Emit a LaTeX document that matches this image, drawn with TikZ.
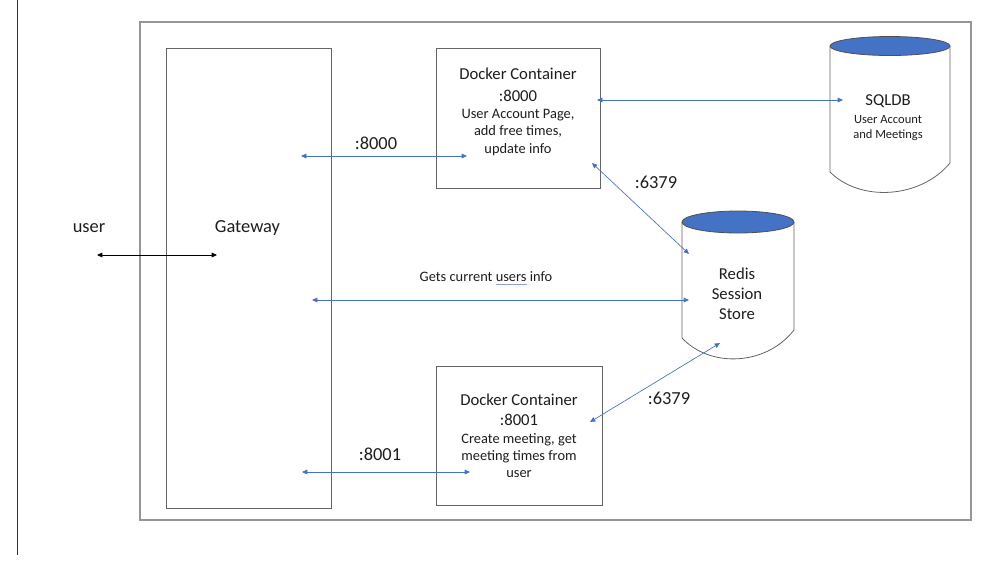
\documentclass[tikz,border=0pt]{standalone}
\usepackage{fontspec}
\setmainfont{Carlito}
\usetikzlibrary{positioning}
\usetikzlibrary{arrows.meta}

\definecolor{linkblue}{RGB}{68,114,196}
\definecolor{spellblue}{RGB}{140,160,225}
\definecolor{edgegray}{RGB}{100,100,100}
\definecolor{framegray}{RGB}{150,150,150}
\definecolor{inkgray}{RGB}{30,30,30}

\newcommand{\bigsize}{\fontsize{12.5}{15}\selectfont}
\newcommand{\spellmark}[1]{\setbox0\hbox{#1}\rlap{\color{spellblue}\rule[-2.4pt]{\wd0}{0.7pt}}#1}

\tikzset{
  box/.style={draw=edgegray, line width=0.6pt, fill=white, inner sep=0pt, text=inkgray},
  link/.style={draw=linkblue, line width=0.5pt,
    {Triangle[length=4pt,width=3.5pt]}-{Triangle[length=4pt,width=3.5pt]}},
  labeltxt/.style={font=\fontsize{13.8}{16}\selectfont, text=inkgray},
  bigtxt/.style={font=\bigsize, text=inkgray},
  smalltxt/.style={font=\fontsize{10.8}{13}\selectfont, text=inkgray},
}

\begin{document}
\begin{tikzpicture}[x=0.75pt, y=-0.75pt]
  \useasboundingbox (0,0) rectangle (1002,576);

  % page edge and outer frame
  \draw[black!80, line width=0.6pt] (17,0) -- (17,555);
  \draw[framegray, line width=0.8pt] (140,22) rectangle (971,520);

  % gateway and user
  \node[box, minimum width=123.75pt, minimum height=345pt] (gateway) at (248.5,278) {};
  \node[labeltxt] (gatewaylabel) at (247.5,228.5) {Gateway};
  \node[labeltxt] (user) at (89,228.5) {user};

  % containers
  \node[box, minimum width=123pt, minimum height=105pt] (dockerA) at (518,118) {};
  \node[smalltxt, align=center] (dockerAtext) at (518,112)
    {{\bigsize Docker Container}\\[3pt]{\bigsize :8000}\\User Account Page,\\add free times,\\update info};
  \node[box, smalltxt, align=center, minimum width=124.5pt, minimum height=104pt] (dockerB) at (519,436)
    {{\bigsize Docker Container}\\[2pt]{\bigsize :8001}\\Create meeting, get\\meeting times from\\user};

  % databases
  \foreach \cx/\cy/\rx/\ry/\hl/\hr in {890/46/60/9.5/126/117, 738/222/56/11/116/108} {
    \draw[edgegray, line width=0.6pt, fill=white]
      (\cx-\rx,\cy) -- (\cx-\rx,\cy+\hl)
      .. controls (\cx-0.5*\rx,\cy+\hl+30) and (\cx+0.5*\rx,\cy+\hr+36) .. (\cx+\rx,\cy+\hr)
      -- (\cx+\rx,\cy);
    \draw[edgegray!80!black, line width=0.6pt, fill=linkblue] (\cx,\cy) ellipse ({\rx*0.75pt} and {\ry*0.75pt});
  }
  \node[bigtxt] (sqldb) at (888,101.5) {SQLDB};
  \node[font=\fontsize{9.4}{11.25}\selectfont, text=inkgray, align=center] (sqlnote) at (888,128.5)
    {User Account\\and Meetings};
  \node[bigtxt, align=center] (redis) at (737,293.5) {Redis\\Session\\Store};

  % connector ends
  \coordinate (userend) at (97,255);
  \coordinate (gwuser) at (217,255);
  \coordinate (gwA) at (301,156);
  \coordinate (dkA) at (467,156);
  \coordinate (gwB) at (302,472);
  \coordinate (dkB) at (470,472);
  \coordinate (gwR) at (312,300);
  \coordinate (rdL) at (689,300);
  \coordinate (dkAsql) at (597,100);
  \coordinate (sqlin) at (843,100);
  \coordinate (dkAr) at (592,163);
  \coordinate (rdA) at (689,254);
  \coordinate (rdB) at (720,343);
  \coordinate (dkBr) at (590,422);

  % connectors
  \draw[black, line width=0.6pt, {Triangle[length=4pt,width=3.5pt]}-{Triangle[length=4pt,width=3.5pt]}] (userend) -- (gwuser);
  \draw[link] (gwA) -- (dkA);
  \draw[link] (gwB) -- (dkB);
  \draw[link] (gwR) -- (rdL);
  \draw[link] (dkAsql) -- (sqlin);
  \draw[link] (dkAr) -- (rdA);
  \draw[link] (rdB) -- (dkBr);

  % port labels
  \node[labeltxt] (portA) at (376,143.5) {:8000};
  \node[labeltxt] (portB) at (380,454.5) {:8001};
  \node[labeltxt] (redisA) at (656,182) {:6379};
  \node[labeltxt] (redisB) at (669,398.5) {:6379};
  \node[smalltxt] (gets) at (486,278) {Gets current \spellmark{users} info};
\end{tikzpicture}
\end{document}
